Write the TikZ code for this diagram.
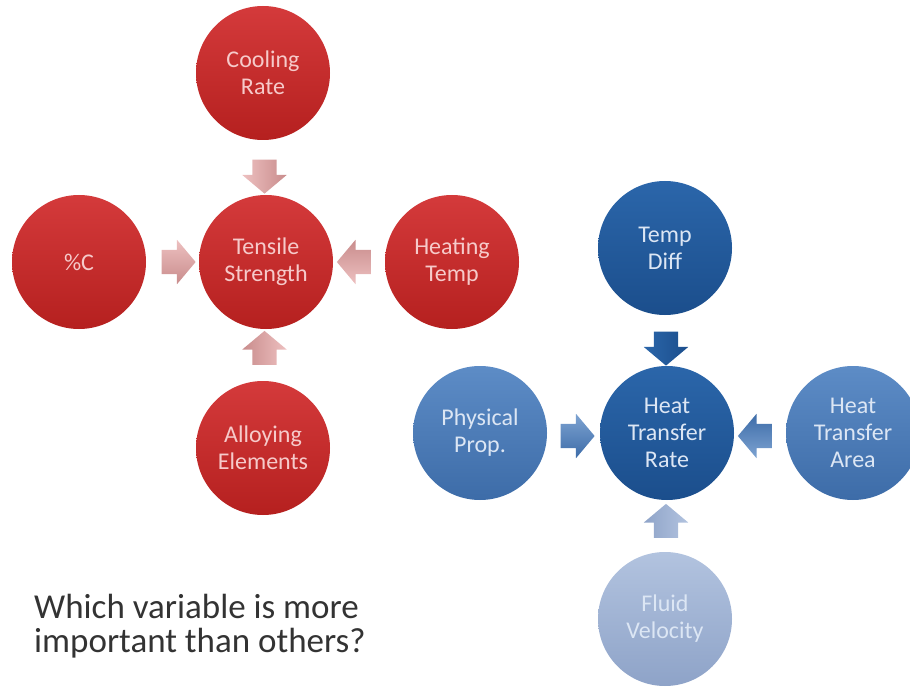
\documentclass[tikz,border=0pt]{standalone}
\usepackage{fontspec}
\setmainfont{Carlito}
\usetikzlibrary{shapes.arrows,calc}
\definecolor{redA}{HTML}{D43A3B}
\definecolor{redB}{HTML}{B5201F}
\definecolor{redTxt}{HTML}{F6CACA}
\definecolor{raA}{HTML}{EDC0C0}
\definecolor{raB}{HTML}{C98C8C}
\definecolor{dbA}{HTML}{2B66AA}
\definecolor{dbB}{HTML}{1B4E8C}
\definecolor{mbA}{HTML}{5D8CC6}
\definecolor{mbB}{HTML}{3D6CA8}
\definecolor{lbA}{HTML}{B2C3DF}
\definecolor{lbB}{HTML}{8EA3C8}
\definecolor{blTxt}{HTML}{DCE6F4}
\tikzset{
  ball/.style={circle, minimum size=134pt, inner sep=0pt, align=center,
    font=\fontsize{24}{27}\selectfont},
  redball/.style={ball, top color=redA, bottom color=redB, text=redTxt},
  dkball/.style={ball, top color=dbA, bottom color=dbB, text=blTxt},
  mdball/.style={ball, top color=mbA, bottom color=mbB, text=blTxt},
  ltball/.style={ball, top color=lbA, bottom color=lbB, text=blTxt},
  barrow/.style={single arrow, inner xsep=0pt, inner ysep=12pt,
    minimum height=34pt, single arrow head extend=10pt,
    single arrow tip angle=100},
  % light, dark colours given per direction (node rotate turns the shading)
  downA/.style 2 args={barrow, rotate=270, left color=#1, right color=#2},
  rightA/.style 2 args={barrow, top color=#1, bottom color=#2},
  leftA/.style 2 args={barrow, rotate=180, bottom color=#1, top color=#2},
  upA/.style 2 args={barrow, rotate=90, right color=#1, left color=#2},
}
\begin{document}
\begin{tikzpicture}[x=1pt,y=-1pt]
\useasboundingbox (0,0) rectangle (910,687);
% red group
\node[redball] (cool) at (263,73) {Cooling\\Rate};
\node[redball] (ten) at (266,262) {Tensile\\Strength};
\node[redball] (pc) at (79,262) {\%C};
\node[redball] (heat) at (452,262) {Heating\\Temp};
\node[redball] (alloy) at (263,448) {Alloying\\Elements};
\node[downA={raA}{raB}] (a1) at ($(cool)!0.5!(ten)+(0,4)$) {};
\node[rightA={raA}{raB}] (a2) at ($(pc)!0.5!(ten)+(1,0)$) {};
\node[leftA={raA}{raB}] (a3) at ($(heat)!0.5!(ten)$) {};
\node[upA={raA}{raB}] (a4) at ($(alloy)!0.5!(ten)+(0,-2)$) {};
% blue group
\node[dkball] (td) at (665,248) {Temp\\Diff};
\node[dkball] (htr) at (667,433) {Heat\\Transfer\\Rate};
\node[mdball] (pp) at (480,433) {Physical\\Prop.};
\node[mdball] (hta) at (853,433) {Heat\\Transfer\\Area};
\node[ltball] (fv) at (665,619) {Fluid\\Velocity};
\node[downA={dbA}{dbB}] (b1) at ($(td)!0.5!(htr)+(0,3)$) {};
\node[rightA={mbA!80!white}{mbB}] (b2) at ($(pp)!0.5!(htr)+(-1,3)$) {};
\node[leftA={mbA!80!white}{mbB}] (b3) at ($(hta)!0.5!(htr)+(0,3)$) {};
\node[upA={lbA}{lbB}] (b4) at ($(fv)!0.5!(htr)$) {};
% question
\node[anchor=base west, align=left, text=black!80, font=\fontsize{35}{34}\selectfont, inner sep=0pt] (q) at (34,652) {Which variable is more\\important than others?};
\end{tikzpicture}
\end{document}
